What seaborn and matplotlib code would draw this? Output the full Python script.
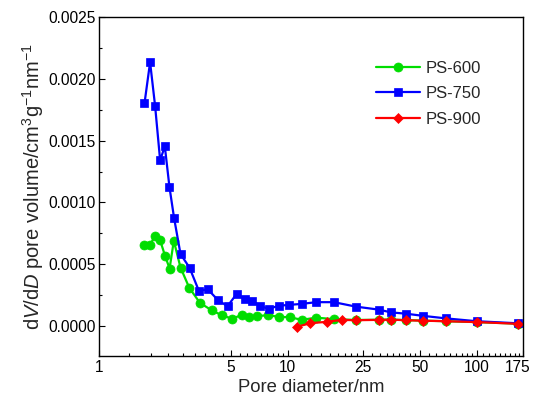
import numpy as np
import pandas as pd
import seaborn as sns
import matplotlib.pyplot as plt
import matplotlib.transforms as mtransforms
from matplotlib.ticker import FixedLocator, NullFormatter, MultipleLocator

# pore diameter (nm) and dV/dD values
d_600 = [1.737, 1.862, 1.991, 2.111, 2.241, 2.369, 2.494, 2.706, 3.013, 3.431, 3.948, 4.459,
         5.073, 5.689, 6.243, 6.855, 7.867, 8.963, 10.21, 11.86, 14.12, 17.47,
         22.90, 30.19, 35.29, 42.10, 52.13, 68.55, 99.6, 165.4]
v_600 = [0.000657, 0.000657, 0.000731, 0.000694, 0.000569, 0.000466, 0.000690, 0.000474,
         0.000309, 0.000188, 0.000129, 0.000089, 0.000060, 0.000090, 0.000073, 0.000081,
         0.000089, 0.000075, 0.000073, 0.000051, 0.000069, 0.000057,
         0.000050, 0.000052, 0.000053, 0.000049, 0.000045, 0.000040, 0.000033, 0.000020]

d_750 = [1.745, 1.868, 1.986, 2.111, 2.235, 2.366, 2.503, 2.706, 3.020, 3.382, 3.773, 4.262,
         4.797, 5.354, 5.923, 6.474, 7.108, 7.934, 8.929, 10.16, 11.82, 14.15, 17.51,
         22.90, 30.19, 35.29, 42.10, 52.13, 68.55, 99.6, 165.4]
v_750 = [0.001801, 0.002134, 0.001779, 0.001341, 0.001454, 0.001123, 0.000873, 0.000583,
         0.000473, 0.000287, 0.000298, 0.000212, 0.000161, 0.000260, 0.000218, 0.000206,
         0.000164, 0.000140, 0.000165, 0.000172, 0.000180, 0.000194, 0.000194,
         0.000158, 0.000134, 0.000111, 0.000101, 0.000083, 0.000063, 0.000040, 0.000023]

d_900 = [11.12, 13.15, 16.03, 19.24, 22.90, 30.19, 35.29, 42.10, 52.13, 68.55, 99.6, 165.4]
v_900 = [-0.000006, 0.000024, 0.000035, 0.000051, 0.000048, 0.000051, 0.000053, 0.000048,
         0.000044, 0.000040, 0.000033, 0.000019]

x_ticks = [1, 5, 10, 25, 50, 100, 175]
x_ticklabels = ["1", "5", "10", "25", "50", "100", "175"]

sns.set_style("ticks")
plt.rcParams['font.family'] = ['Liberation Sans', 'DejaVu Sans']
plt.rcParams['mathtext.fontset'] = 'custom'
plt.rcParams['mathtext.rm'] = 'Liberation Sans'
plt.rcParams['mathtext.it'] = 'Liberation Sans:italic'
plt.rcParams['mathtext.bf'] = 'Liberation Sans:bold'

fig = plt.figure(figsize=(5.34, 4.03), dpi=100)
ax = fig.add_axes([0.185, 0.117, 0.794, 0.841])

series = [
    ("PS-600", d_600, v_600, "#00DD00", "o", 6.5),
    ("PS-750", d_750, v_750, "#0000FF", "s", 6),
    ("PS-900", d_900, v_900, "#FF0000", "D", 5.5),
]
for name, d, v, c, m, ms in series:
    df = pd.DataFrame({"d": d, "v": v})
    sns.lineplot(data=df, x="d", y="v", ax=ax, color=c, marker=m, markersize=ms,
                 markeredgecolor=c, markeredgewidth=0.5, linewidth=1.6,
                 estimator=None, sort=False, label=name)

ax.set_xscale("log")
ax.set_xlim(1, 175)
ax.set_ylim(-0.00024, 0.0025)

# Origin-style minor ticks: 8 evenly spaced between each pair of labelled ticks
minor = []
for a, b in zip(x_ticks[:-1], x_ticks[1:]):
    minor.extend(np.linspace(a, b, 10)[1:-1])
ax.xaxis.set_major_locator(FixedLocator(x_ticks))
ax.set_xticklabels(x_ticklabels)
ax.xaxis.set_minor_locator(FixedLocator(minor))
ax.xaxis.set_minor_formatter(NullFormatter())
ax.yaxis.set_major_locator(MultipleLocator(0.0005))
ax.yaxis.set_minor_locator(MultipleLocator(0.00025))
ax.set_yticklabels([f"{t:.4f}" for t in ax.get_yticks()])

ax.tick_params(which="both", direction="in", labelsize=11.2, width=0.8, colors="black", pad=3)
ax.tick_params(axis="y", pad=2)
ax.tick_params(which="major", length=4.5)
ax.tick_params(which="minor", length=2.5)
for s in ax.spines.values():
    s.set_linewidth(1.0)
    s.set_color("black")
    s.set_visible(True)

# nudge the last label so it stays inside the figure
last = ax.get_xticklabels()[-1]
last.set_transform(last.get_transform() + mtransforms.ScaledTranslation(-4 / 72, 0, fig.dpi_scale_trans))

ax.set_xlabel("Pore diameter/nm", fontsize=13.3, labelpad=3)
ax.set_ylabel(r"d$\it{V}$/d$\it{D}$ pore volume/cm$^3$g$^{-1}$nm$^{-1}$", fontsize=14.5, labelpad=2)

ax.legend(loc="upper left", bbox_to_anchor=(0.639, 0.89), borderaxespad=0, frameon=False,
          fontsize=12, handlelength=2.6, labelspacing=0.62, handletextpad=0.35)

fig.savefig("out.png", dpi=100)
